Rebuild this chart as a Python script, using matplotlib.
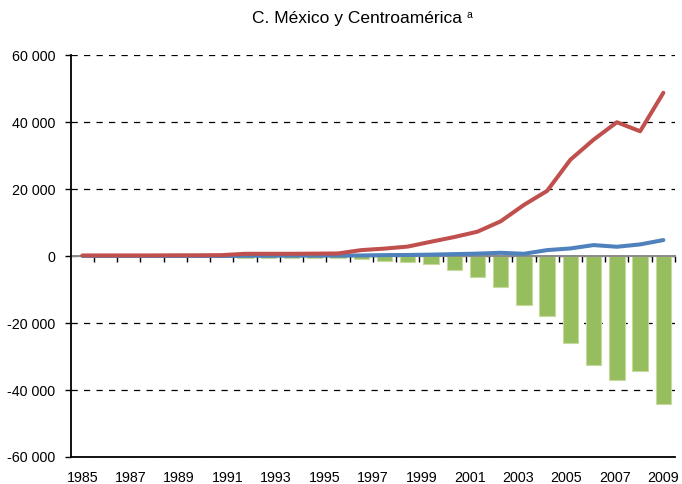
"""
Comercio con China: México y Centroamérica (exportaciones, importaciones, saldo).
"""

import numpy as np
import matplotlib
matplotlib.use('Agg')
import matplotlib.pyplot as plt
from matplotlib.ticker import FuncFormatter

plt.rcParams['font.family'] = ['Liberation Sans', 'DejaVu Sans']

# 26 puntos de datos (1984-2009); las etiquetas del eje van repartidas a lo largo del eje
periodos = list(range(1984, 2010))
etiquetas_anios = ['1985', '1987', '1989', '1991', '1993', '1995', '1997',
                   '1999', '2001', '2003', '2005', '2007', '2009']

importaciones = [200, 200, 200, 200, 250, 250, 300, 700, 700, 700, 750, 800,
                 1800, 2250, 2850, 4300, 5700, 7300, 10400, 15300, 19500,
                 28800, 34800, 40000, 37300, 48800]
exportaciones = [50, 50, 50, 50, 50, 50, 50, 100, 100, 150, 150, 150,
                 200, 300, 350, 450, 600, 750, 1000, 700, 1800,
                 2300, 3300, 2800, 3500, 4800]
saldo = [-100, -100, -100, -100, -150, -150, -200, -500, -500, -500, -550, -600,
         -900, -1400, -1900, -2400, -4100, -6100, -9100, -14500, -18000,
         -25900, -32400, -36900, -34400, -44200]

ROJO = '#C0504D'
AZUL = '#4F81BD'
VERDE = '#96BD5E'


def miles(v, pos):
    return f"{int(v):,}".replace(',', ' ')


def main():
    fig = plt.figure(figsize=(6.82, 4.84), dpi=100)
    ax = fig.add_axes([0.1037, 0.0558, 0.886, 0.830])

    x = np.arange(len(periodos))

    ax.bar(x, saldo, width=0.66, color=VERDE, edgecolor='#C6DA9E',
           linewidth=0.8, zorder=1)
    ax.plot(x, exportaciones, color=AZUL, lw=2.9, solid_capstyle='round',
            solid_joinstyle='round', zorder=3)
    ax.plot(x, importaciones, color=ROJO, lw=2.9, solid_capstyle='round',
            solid_joinstyle='round', zorder=4)

    ax.set_xlim(-0.5, len(periodos) - 0.5)
    ax.set_ylim(-60000, 60000)

    # Eje y
    ax.set_yticks(np.arange(-60000, 60001, 20000))
    ax.yaxis.set_major_formatter(FuncFormatter(miles))
    ax.tick_params(axis='y', direction='out', length=4, width=1, color='black',
                   labelsize=10.3, pad=7)
    ax.yaxis.grid(True, linestyle=(0, (5, 5)), color='black', linewidth=0.9)
    ax.set_axisbelow(True)

    # Eje x: etiquetas repartidas a lo ancho
    ax.set_xticks(np.linspace(0, len(periodos) - 1, len(etiquetas_anios)))
    ax.set_xticklabels(etiquetas_anios)
    ax.tick_params(axis='x', length=0, labelsize=10.3, pad=10)

    for side in ['top', 'right']:
        ax.spines[side].set_visible(False)
    ax.spines['left'].set_linewidth(1.3)
    ax.spines['bottom'].set_linewidth(1.3)

    # Linea de cero con marcas entre categorias
    cero = ax.secondary_xaxis(0, transform=ax.transData)
    cero.set_xticks(np.arange(0.5, len(periodos), 1.0))
    cero.set_xticklabels([])
    cero.tick_params(axis='x', direction='out', length=4, width=1, color='black')
    cero.spines['bottom'].set_color('#8A8A8A')
    cero.spines['bottom'].set_linewidth(1.4)
    cero.set_zorder(2)

    # Titulo con superindice
    titulo = fig.text(0.524, 1 - 18 / 484, 'C. México y Centroamérica',
                      ha='center', va='center', fontsize=12.5)
    ax.annotate('a', xy=(1, 1), xycoords=titulo, xytext=(3, 0),
                textcoords='offset points', ha='left', va='top', fontsize=7.5)

    fig.savefig('out.png', dpi=100)
    print("Saved plot to out.png")


if __name__ == "__main__":
    main()
